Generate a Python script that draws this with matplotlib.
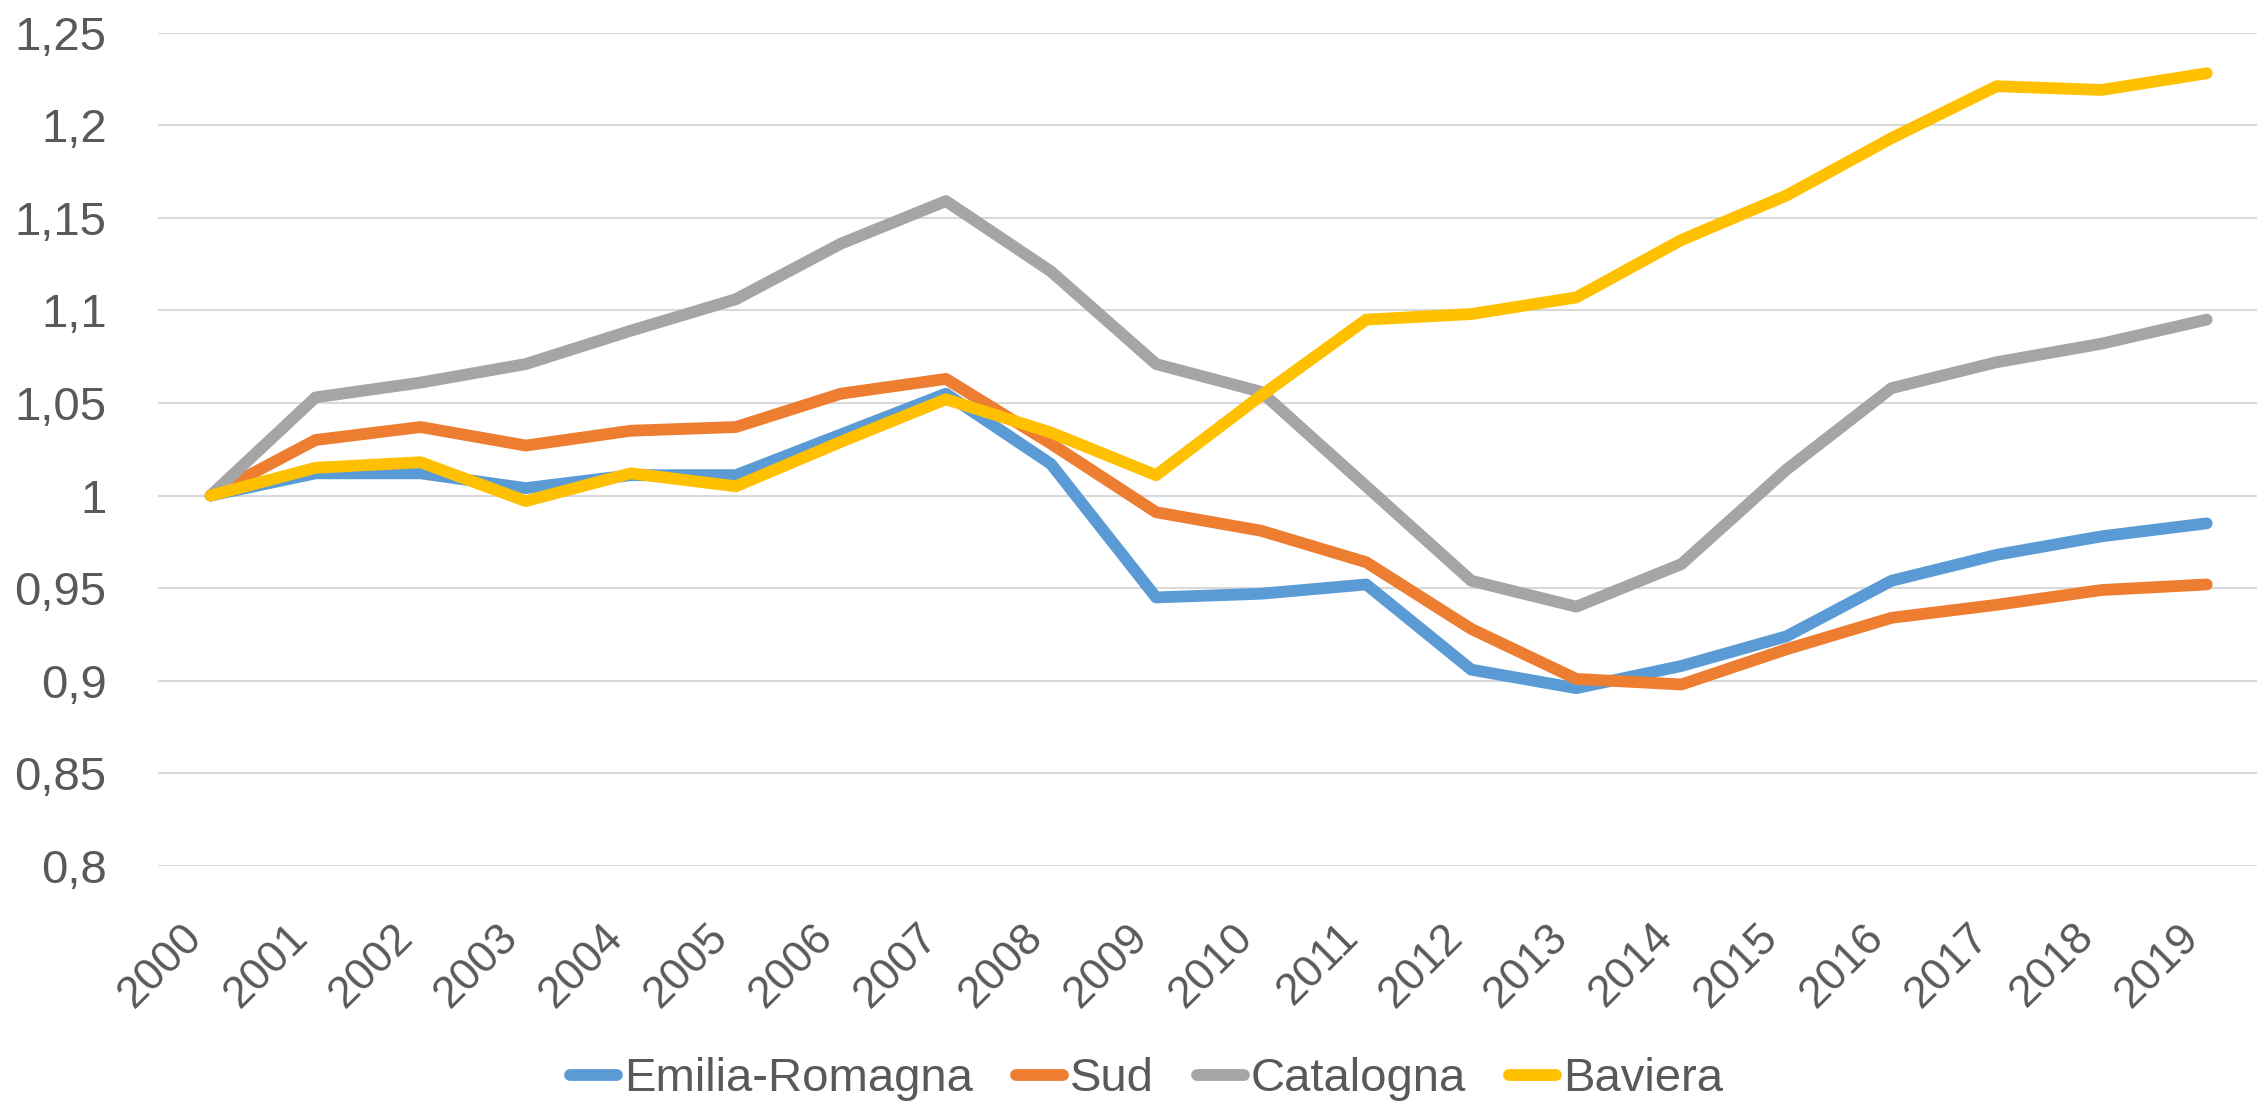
import matplotlib.pyplot as plt
from matplotlib.ticker import FuncFormatter

# data
years = [str(y) for y in range(2000, 2020)]
emilia = [1.0, 1.012, 1.012, 1.004, 1.011, 1.011, 1.033, 1.055, 1.017, 0.945,
          0.947, 0.952, 0.906, 0.896, 0.908, 0.924, 0.954, 0.968, 0.978, 0.985]
sud = [1.0, 1.030, 1.037, 1.027, 1.035, 1.037, 1.055, 1.063, 1.028, 0.991,
       0.981, 0.964, 0.928, 0.901, 0.898, 0.917, 0.934, 0.941, 0.949, 0.952]
catalogna = [1.0, 1.053, 1.061, 1.071, 1.089, 1.106, 1.136, 1.159, 1.121, 1.071,
             1.056, 1.005, 0.954, 0.940, 0.963, 1.014, 1.058, 1.072, 1.082, 1.095]
baviera = [1.0, 1.015, 1.018, 0.997, 1.012, 1.005, 1.029, 1.052, 1.034, 1.011,
           1.054, 1.095, 1.098, 1.107, 1.138, 1.162, 1.193, 1.221, 1.219, 1.228]

series = [("Emilia-Romagna", emilia, "#5B9BD5"),
          ("Sud", sud, "#ED7D31"),
          ("Catalogna", catalogna, "#A5A5A5"),
          ("Baviera", baviera, "#FFC000")]

plt.rcParams['font.family'] = ['Liberation Sans', 'DejaVu Sans']

fig = plt.figure(figsize=(22.57, 11.06), dpi=100)
ax = fig.add_axes([0.070, 0.217, 0.931, 0.7536])

x = list(range(len(years)))
for name, vals, col in series:
    ax.plot(x, vals, color=col, lw=8.5, label=name,
            solid_capstyle='round', solid_joinstyle='round')

ax.set_xlim(-0.5, len(years) - 0.5)
ax.set_ylim(0.8, 1.25)
ax.set_yticks([0.8, 0.85, 0.9, 0.95, 1.0, 1.05, 1.1, 1.15, 1.2, 1.25])
ax.yaxis.set_major_formatter(FuncFormatter(lambda v, p: ('%g' % round(v, 2)).replace('.', ',')))
ax.set_xticks(x)
ax.set_xticklabels(years, rotation=45, ha='right', va='top')

ax.grid(axis='y', color='#D9D9D9', lw=1.5)
ax.set_axisbelow(True)
for s in ax.spines.values():
    s.set_visible(False)
ax.tick_params(axis='both', length=0, labelcolor='#595959')
ax.tick_params(axis='y', labelsize=34, pad=37)
ax.tick_params(axis='x', labelsize=32, pad=36)

fig.legend(loc='center', bbox_to_anchor=(0.508, 0.024), ncol=4, frameon=False,
           fontsize=34, handlelength=1.0, handletextpad=0.15, columnspacing=0.9,
           labelcolor='#595959')

fig.savefig('out.png', dpi=100)
